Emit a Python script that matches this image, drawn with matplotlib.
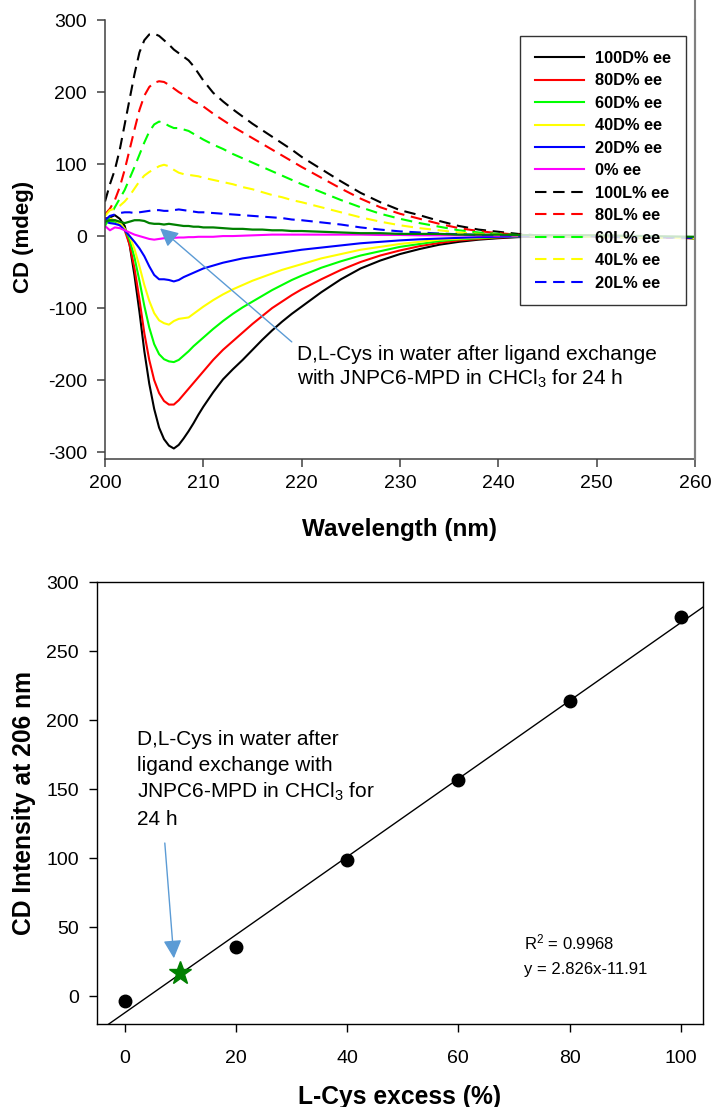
import numpy as np
import matplotlib
matplotlib.use('Agg')
import matplotlib.pyplot as plt
from matplotlib.lines import Line2D

plt.rcParams['font.family'] = ['Liberation Sans', 'DejaVu Sans']
plt.rcParams['mathtext.fontset'] = 'custom'
plt.rcParams['mathtext.rm'] = 'Liberation Sans'
plt.rcParams['mathtext.it'] = 'Liberation Sans:italic'
plt.rcParams['axes.unicode_minus'] = False

# ---------------- top panel data (CD spectra) ----------------
wavelength = [200, 200.5, 201, 201.5, 202, 202.5, 203, 203.5, 204, 204.5, 205, 205.5,
              206, 206.5, 207, 207.5, 208, 208.5, 209, 209.5, 210, 211, 212, 213, 214,
              215, 216, 217, 218, 219, 220, 222, 224, 226, 228, 230, 232, 234, 236, 238,
              240, 242, 244, 246, 248, 250, 255, 260]

cd_100D = [24, 26, 29, 24, 14, -12, -55, -105, -160, -205, -240, -266,
           -282, -291, -295, -290, -281, -271, -260, -248, -237, -217, -199, -185, -172,
           -158, -144, -131, -119, -108, -98, -78, -60, -45, -34, -25, -18, -12, -8, -5,
           -3, -1.5, -0.5, 0, 0, 0, -1, -3]
cd_80D = [25, 23, 22, 18, 8, -12, -45, -88, -135, -172, -200, -218,
          -229, -234, -234, -228, -220, -212, -204, -196, -188, -172, -158, -146, -134,
          -122, -111, -100, -91, -82, -74, -60, -47, -36, -27, -20, -14, -9.5, -6, -4,
          -2, -1, 0, 0.5, 0.5, 0.5, -1, -3]
cd_60D = [22, 20, 20, 18, 10, -5, -30, -62, -97, -127, -150, -164,
          -171, -174, -175, -172, -166, -160, -153, -147, -141, -129, -118, -108, -99,
          -91, -83, -75, -68, -61, -55, -44, -35, -27, -21, -15, -11, -7, -4.5, -3,
          -1.5, -0.5, 0, 0.5, 0.5, 0.5, -1, -2]
cd_40D = [20, 24, 22, 18, 10, 0, -18, -42, -68, -90, -107, -117,
          -121, -123, -118, -115, -114, -113, -108, -103, -98, -89, -81, -74, -68,
          -62, -57, -52, -47, -43, -39, -31, -25, -19, -15, -11, -8, -5, -3.5, -2,
          -1, 0, 0, 0.5, 0.5, 0.5, -1, -3]
cd_20D = [20, 18, 17, 15, 8, 0, -8, -17, -28, -42, -54, -60,
          -60, -61, -63, -61, -57, -54, -51, -48, -45, -41, -37, -34, -31,
          -29, -27, -25, -23, -21, -19, -16, -13, -10, -8, -6, -4.5, -3.5, -2.5, -1.5,
          -1, -0.5, 0, 0, 0, 0, -1, -2]
cd_0 = [14, 8, 12, 11, 8, 5, 2, 0, -2, -4, -5, -4,
        -3, -3, -2.5, -2, -2, -1.5, -1.5, -1, -1, -1, 0, 0, 0.5,
        1, 1.5, 2, 2, 2, 2, 2, 2, 2, 1.5, 1.5, 1, 1, 1, 1,
        0.5, 0.5, 0, 0, 0, 0, -1, -2]
cd_100L = [48, 72, 92, 120, 155, 190, 225, 255, 272, 280, 281, 278,
           272, 266, 259, 254, 249, 244, 236, 226, 216, 199, 187, 176, 166,
           156, 147, 138, 129, 120, 110, 93, 76, 60, 47, 36, 29, 21, 14, 9,
           6, 3, 1, 0, -1, -1, -2, -3]
cd_80L = [30, 38, 50, 68, 92, 120, 148, 175, 195, 207, 213, 215,
          214, 210, 205, 200, 196, 192, 187, 184, 180, 170, 161, 152, 144,
          136, 128, 120, 112, 104, 96, 81, 66, 52, 40, 31, 24, 17, 11, 7,
          4, 2, 0.5, 0, -1, -1, -2, -3]
cd_60L = [14, 28, 40, 52, 64, 80, 96, 113, 130, 145, 155, 159,
          157, 153, 150, 150, 148, 146, 142, 138, 134, 127, 121, 114, 108,
          102, 96, 90, 84, 78, 72, 61, 50, 40, 31, 24, 18, 13, 8, 5,
          3, 1.5, 0.5, 0, -0.5, -1, -2, -3]
cd_40L = [28, 36, 38, 42, 48, 56, 66, 76, 84, 89, 93, 97,
          99, 97, 92, 88, 86, 85, 84, 83, 81, 78, 75, 72, 68,
          65, 61, 57, 54, 50, 47, 40, 33, 26, 20, 15, 11, 8, 5, 3,
          2, 1, 0, 0, -0.5, -1, -2, -3]
cd_20L = [22, 28, 30, 32, 33, 33, 32, 33, 34, 35, 36, 36,
          35, 35, 36, 37, 36, 35, 34, 33, 33, 32, 31, 30, 29,
          28, 27, 26, 25, 23, 22, 19, 16, 12, 9, 6.5, 5, 3.5, 2.5, 1.5,
          1, 0.5, 0, 0, 0, -0.5, -1.5, -2.5]
cd_sample = [20, 22, 22, 20, 18, 20, 22, 22, 21, 18, 17, 17,
             16, 17, 16, 15, 14, 14, 13, 13, 12, 12, 11, 10, 10,
             9, 9, 8, 8, 7, 7, 6, 5, 4, 4, 3, 3, 3, 2, 2,
             2, 1.5, 1, 1, 1, 1, 0, -1]

series_labels = ['100D% ee', '80D% ee', '60D% ee', '40D% ee', '20D% ee', '0% ee',
                 '100L% ee', '80L% ee', '60L% ee', '40L% ee', '20L% ee']
series_data = [cd_100D, cd_80D, cd_60D, cd_40D, cd_20D, cd_0,
               cd_100L, cd_80L, cd_60L, cd_40L, cd_20L]
series_colors = ['#000000', '#ff0000', '#00ff00', '#ffff00', '#0000ff', '#ff00ff',
                 '#000000', '#ff0000', '#00ff00', '#ffff00', '#0000ff']
series_dashed = [False] * 6 + [True] * 5

# ---------------- bottom panel data ----------------
l_excess = [0, 20, 40, 60, 80, 100]
cd_206 = [-3, 36, 99, 157, 214, 275]
sample_excess = [10]
sample_cd = [17]
fit_slope = 2.826
fit_intercept = -11.91
fit_range = [-5, 104]

arrow_color = '#5b9bd5'

fig = plt.figure(figsize=(7.12, 11.07), dpi=100)

# ================= TOP PANEL =================
ax1 = fig.add_axes([0.1475, 0.5851, 0.8284, 0.3968])
for vals, lab, col, dashed in zip(series_data, series_labels, series_colors, series_dashed):
    ls = (0, (5.5, 3.2)) if dashed else '-'
    ax1.plot(wavelength, vals, color=col, lw=1.5, ls=ls, label=lab)
ax1.plot(wavelength, cd_sample, color='#008000', lw=1.6)

ax1.set_xlim(200, 260)
ax1.set_ylim(-310, 300)
ax1.set_xticks(np.arange(200, 261, 10))
ax1.set_yticks(np.arange(-300, 301, 100))
ax1.spines['top'].set_visible(False)
ax1.spines['right'].set_color('#808080')
ax1.spines['right'].set_linewidth(1.5)
for s in ['left', 'bottom']:
    ax1.spines[s].set_color('#404040')
    ax1.spines[s].set_linewidth(1.1)
ax1.tick_params(axis='both', direction='out', length=6, width=1.1, color='#404040',
                labelsize=14)
ax1.tick_params(axis='y', pad=7, right=False)
ax1.tick_params(axis='x', pad=5)

ax1.set_xlabel('Wavelength (nm)', fontsize=17.5, fontweight='bold')
ax1.set_ylabel('CD (mdeg)', fontsize=16, fontweight='bold')
ax1.xaxis.set_label_coords(0.5, -0.16)
ax1.xaxis.label.set_va('center')
ax1.yaxis.set_label_coords(-0.139, 0.506)
ax1.yaxis.label.set_va('center')

leg = ax1.legend(loc='upper right', bbox_to_anchor=(0.985, 0.9636), borderaxespad=0,
                 frameon=True, fancybox=False, edgecolor='black',
                 prop={'weight': 'bold', 'size': 11.8}, handlelength=3.0,
                 handletextpad=0.7, labelspacing=0.457, borderpad=0.9)
leg.get_frame().set_linewidth(1.0)

ax1.annotate('', xy=(205.6, 10.7), xytext=(219.0, -147),
             arrowprops=dict(arrowstyle='-|>,head_length=1.1,head_width=0.55',
                             color=arrow_color, lw=1.0, shrinkA=0, shrinkB=0,
                             mutation_scale=10))
top_note = ['D,L-Cys in water after ligand exchange',
            'with JNPC6-MPD in CHCl$_3$ for 24 h']
top_note_y = [-172.2, -206.9]
for txt, yy in zip(top_note, top_note_y):
    ax1.text(219.55, yy, txt, fontsize=15, ha='left', va='baseline')

# gray right border line that reaches up to the top of the figure
fig.add_artist(Line2D([694.8 / 712, 694.8 / 712], [1.0, (1107 - 459.3) / 1107],
                      transform=fig.transFigure, color='#808080', lw=1.5))

# ================= BOTTOM PANEL =================
ax2 = fig.add_axes([0.1362, 0.075, 0.8511, 0.399])
fx = np.array(fit_range, dtype=float)
ax2.plot(fx, fit_slope * fx + fit_intercept, color='black', lw=1.0)
ax2.plot(l_excess, cd_206, 'o', color='black', ms=9)
ax2.plot(sample_excess, sample_cd, '*', color='#008000', ms=17)

ax2.set_xlim(-5, 104)
ax2.set_ylim(-20, 300)
ax2.set_xticks(np.arange(0, 101, 20))
ax2.set_yticks(np.arange(0, 301, 50))
for s in ax2.spines.values():
    s.set_linewidth(1.0)
ax2.tick_params(axis='both', direction='out', length=6, width=1.0, labelsize=14)
ax2.tick_params(axis='y', pad=7)
ax2.tick_params(axis='x', pad=13)
ax2.set_xlabel('L-Cys excess (%)', fontsize=17.7, fontweight='bold')
ax2.set_ylabel('CD Intensity at 206 nm', fontsize=17.7, fontweight='bold')
ax2.xaxis.set_label_coords(0.5, -0.165)
ax2.xaxis.label.set_va('center')
ax2.yaxis.set_label_coords(-0.12, 0.5)
ax2.yaxis.label.set_va('center')

ax2.annotate('', xy=(8.83, 27.6), xytext=(7.2, 111.1),
             arrowprops=dict(arrowstyle='-|>,head_length=1.1,head_width=0.55',
                             color=arrow_color, lw=1.0, shrinkA=0, shrinkB=0,
                             mutation_scale=10))
bottom_note = ['D,L-Cys in water after', 'ligand exchange with',
               'JNPC6-MPD in CHCl$_3$ for', '24 h']
bottom_note_y = [182.4, 163.1, 143.7, 124.2]
for txt, yy in zip(bottom_note, bottom_note_y):
    ax2.text(2.2, yy, txt, fontsize=15, ha='left', va='baseline')

fit_note = ['R$^2$ = 0.9968', 'y = 2.826x-11.91']
fit_note_y = [34.2, 16.3]
for txt, yy in zip(fit_note, fit_note_y):
    ax2.text(71.9, yy, txt, fontsize=12, ha='left', va='baseline')

fig.savefig('out.png', dpi=100)
